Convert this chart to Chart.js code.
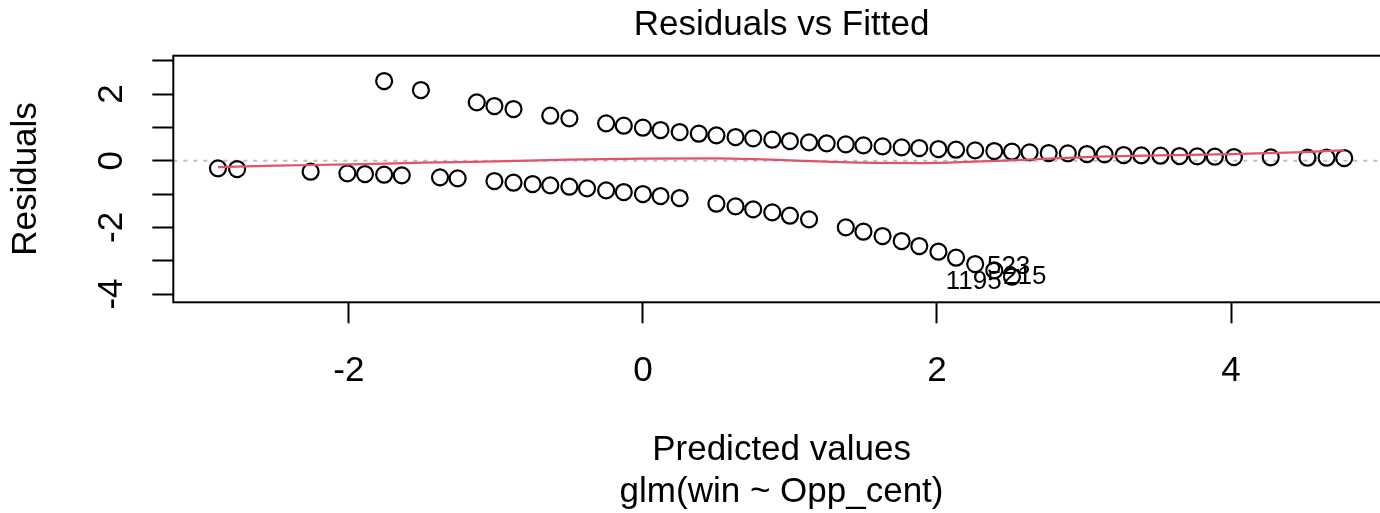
<!DOCTYPE html>
<html>
<head>
<meta charset="utf-8">
<title>Residuals vs Fitted</title>
<script src="https://cdn.jsdelivr.net/npm/chart.js"></script>
<style>
  html, body { margin: 0; padding: 0; background: #fff; overflow: hidden; }
  #chart { display: block; }
</style>
</head>
<body>
<canvas id="chart" width="1400" height="513"></canvas>
<script>
// points with win = 1 (upper branch)
const fittedUpper = [-1.76, -1.51, -1.13, -1.01, -0.88, -0.63, -0.50, -0.25, -0.13, 0.00,
  0.12, 0.25, 0.38, 0.50, 0.63, 0.75, 0.88, 1.00, 1.13, 1.25,
  1.38, 1.50, 1.63, 1.76, 1.88, 2.01, 2.13, 2.26, 2.39, 2.51,
  2.63, 2.76, 2.89, 3.02, 3.14, 3.27, 3.39, 3.52, 3.65, 3.77,
  3.89, 4.02, 4.27, 4.52, 4.65, 4.77];
const residUpper = [2.39, 2.12, 1.75, 1.64, 1.55, 1.35, 1.27, 1.12, 1.05, 0.99,
  0.92, 0.86, 0.81, 0.76, 0.71, 0.67, 0.63, 0.59, 0.55, 0.52,
  0.49, 0.46, 0.43, 0.40, 0.38, 0.35, 0.33, 0.31, 0.29, 0.27,
  0.25, 0.23, 0.22, 0.20, 0.19, 0.17, 0.16, 0.15, 0.14, 0.13,
  0.12, 0.11, 0.10, 0.09, 0.09, 0.08];

// points with win = 0 (lower branch)
const fittedLower = [-2.89, -2.76, -2.26, -2.01, -1.89, -1.76, -1.64, -1.38, -1.26, -1.01,
  -0.88, -0.75, -0.63, -0.50, -0.38, -0.25, -0.13, 0.00, 0.12, 0.25,
  0.50, 0.63, 0.75, 0.88, 1.00, 1.13, 1.38, 1.50, 1.63, 1.76,
  1.88, 2.01, 2.13, 2.26, 2.39, 2.51];
const residLower = [-0.23, -0.25, -0.33, -0.38, -0.40, -0.42, -0.44, -0.50, -0.53, -0.61,
  -0.66, -0.70, -0.74, -0.78, -0.83, -0.89, -0.94, -1.00, -1.06, -1.12,
  -1.29, -1.37, -1.46, -1.55, -1.65, -1.76, -2.00, -2.13, -2.26, -2.41,
  -2.56, -2.73, -2.91, -3.10, -3.29, -3.48];

// smoother (red line)
const smoothX = [-2.89, -2.5, -2.0, -1.5, -1.0, -0.5, 0.0, 0.5, 0.75, 1.0,
  1.25, 1.5, 1.9, 2.25, 2.5, 2.8, 3.1, 3.5, 4.0, 4.5, 4.77];
const smoothY = [-0.19, -0.15, -0.11, -0.06, -0.02, 0.03, 0.06, 0.07, 0.05, 0.01,
  -0.03, -0.06, -0.07, -0.03, 0.01, 0.07, 0.12, 0.16, 0.20, 0.26, 0.31];

// labelled observations
const idLabelText = ['1195', '523', '215'];
const idLabelX = [2.06, 2.34, 2.45];
const idLabelY = [-3.64, -3.19, -3.49];

// axes
const xTicks = [-2, 0, 2, 4];
const yTicks = [-4, -3, -2, -1, 0, 1, 2, 3];
const yTickLabels = [-4, -2, 0, 2];
const xRange = [-3.194, 5.08];
const yRange = [-4.248, 3.15];
const zeroLevel = 0;

const toPoints = (xs, ys) => xs.map((x, i) => ({x: x, y: ys[i]}));

Chart.defaults.font.family = "'Liberation Sans', Arial, Helvetica, sans-serif";
Chart.defaults.font.size = 35;
Chart.defaults.color = '#000';

// dotted zero line, id labels and the box round the plot
const rDecor = {
  id: 'rDecor',
  beforeDatasetsDraw(chart) {
    const {ctx, chartArea: a, scales: {y}} = chart;
    const py = y.getPixelForValue(zeroLevel);
    ctx.save();
    ctx.strokeStyle = '#BEBEBE';
    ctx.lineWidth = 2;
    ctx.setLineDash([4, 6]);
    ctx.beginPath();
    ctx.moveTo(a.left, py);
    ctx.lineTo(a.right, py);
    ctx.stroke();
    ctx.restore();
  },
  afterDatasetsDraw(chart) {
    const {ctx, chartArea: a, scales: {x, y}} = chart;
    ctx.save();
    ctx.fillStyle = '#000';
    ctx.font = "26px 'Liberation Sans', Arial, sans-serif";
    ctx.textAlign = 'left';
    ctx.textBaseline = 'middle';
    idLabelText.forEach((t, i) => {
      ctx.fillText(t, x.getPixelForValue(idLabelX[i]), y.getPixelForValue(idLabelY[i]));
    });
    ctx.strokeStyle = '#000';
    ctx.lineWidth = 2;
    ctx.strokeRect(a.left, a.top, a.right - a.left, a.bottom - a.top);
    ctx.restore();
  }
};

const tickGrid = {
  display: true,
  drawOnChartArea: false,
  drawTicks: true,
  tickLength: 21,
  tickWidth: 2,
  tickColor: '#000'
};

new Chart(document.getElementById('chart').getContext('2d'), {
  data: {
    datasets: [{
      type: 'line',
      data: toPoints(smoothX, smoothY),
      borderColor: '#DF536B',
      borderWidth: 2.2,
      pointRadius: 0,
      cubicInterpolationMode: 'monotone',
      fill: false
    }, {
      type: 'scatter',
      data: toPoints(fittedUpper, residUpper),
      borderColor: '#000',
      backgroundColor: 'rgba(0,0,0,0)',
      borderWidth: 2.2,
      pointRadius: 8
    }, {
      type: 'scatter',
      data: toPoints(fittedLower, residLower),
      borderColor: '#000',
      backgroundColor: 'rgba(0,0,0,0)',
      borderWidth: 2.2,
      pointRadius: 8
    }]
  },
  options: {
    responsive: false,
    animation: false,
    events: [],
    layout: { padding: { left: 0, right: 8, top: 0, bottom: 0 } },
    plugins: {
      legend: { display: false },
      tooltip: { enabled: false },
      title: {
        display: true,
        text: 'Residuals vs Fitted',
        fullSize: false,
        color: '#000',
        font: { size: 35, weight: 'normal' },
        padding: { top: 4, bottom: 9.7 }
      }
    },
    scales: {
      x: {
        type: 'linear',
        min: xRange[0],
        max: xRange[1],
        afterBuildTicks: s => { s.ticks = xTicks.map(v => ({value: v})); },
        afterFit: s => { s.height = 210.7; },
        border: { display: false },
        grid: tickGrid,
        ticks: { autoSkip: false, padding: 26.7, maxRotation: 0, callback: v => String(v) },
        title: {
          display: true,
          text: ['Predicted values', 'glm(win ~ Opp_cent)'],
          padding: { top: 0, bottom: 0 }
        }
      },
      y: {
        type: 'linear',
        min: yRange[0],
        max: yRange[1],
        afterBuildTicks: s => { s.ticks = yTicks.map(v => ({value: v})); },
        afterFit: s => { s.width = 173.3; },
        border: { display: false },
        grid: tickGrid,
        ticks: {
          autoSkip: false,
          minRotation: 90,
          maxRotation: 90,
          crossAlign: 'center',
          padding: 24.8,
          callback: v => yTickLabels.includes(v) ? String(v) : ''
        },
        title: {
          display: true,
          text: 'Residuals',
          padding: { top: 5, bottom: 0 }
        }
      }
    }
  },
  plugins: [rDecor]
});
</script>
</body>
</html>
